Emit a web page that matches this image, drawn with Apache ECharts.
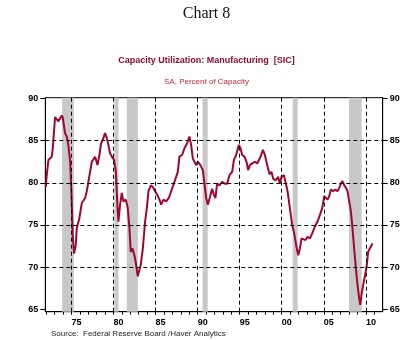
<!DOCTYPE html>
<html>
<head>
<meta charset="utf-8">
<script src="https://cdn.jsdelivr.net/npm/echarts@6/dist/echarts.min.js"></script>
<style>html,body{margin:0;padding:0;background:#fff;}#c{width:413px;height:340px;}</style>
</head>
<body>
<div id="c"></div>
<script>
// Decimal year of each reading
const dates = [
 1971.96,1972.07,1972.27,1972.67,1972.79,1973.06,1973.18,1973.45,1973.66,1973.86,1973.98,
 1974.25,1974.45,1974.64,1974.85,1975.00,1975.17,1975.32,1975.52,1975.64,1975.95,
 1976.24,1976.63,1976.83,1977.22,1977.43,1977.82,1978.10,1978.33,1978.53,1978.73,
 1979.00,1979.21,1979.40,1979.60,1979.80,1980.08,1980.28,1980.47,1980.59,1980.79,
 1980.99,1981.18,1981.47,1981.70,1981.90,1982.06,1982.26,1982.49,1982.69,1982.89,
 1983.09,1983.25,1983.49,1983.76,1983.97,1984.16,1984.44,1984.68,1984.95,1985.25,
 1985.47,1985.67,1985.94,1986.26,1986.58,1986.86,1987.25,1987.65,1987.84,1988.16,
 1988.44,1988.76,1989.03,1989.23,1989.43,1989.63,1989.83,1990.03,1990.34,1990.62,
 1990.82,1991.02,1991.22,1991.49,1991.73,1991.93,1992.12,1992.32,1992.60,1992.92,
 1993.24,1993.51,1993.79,1994.11,1994.31,1994.58,1994.90,1995.10,1995.30,1995.57,
 1995.81,1996.01,1996.21,1996.49,1996.81,1997.08,1997.29,1997.56,1997.76,1998.00,
 1998.27,1998.55,1998.78,1998.98,1999.26,1999.58,1999.78,1999.97,2000.26,2000.45,
 2000.69,2000.97,2001.24,2001.48,2001.75,2001.96,2002.16,2002.35,2002.55,2002.82,
 2003.06,2003.35,2003.62,2003.94,2004.25,2004.54,2004.81,2005.05,2005.25,2005.44,
 2005.64,2005.84,2006.12,2006.36,2006.63,2006.83,2007.03,2007.22,2007.43,2007.63,
 2007.82,2008.02,2008.22,2008.41,2008.61,2008.81,2009.00,2009.20,2009.33,2009.48,
 2009.68,2009.88,2010.12,2010.27,2010.47,2010.59,2010.79
];
// Capacity utilization, manufacturing (SIC), % of capacity
const capUtil = [
 79.5,80.9,82.7,83.1,84.1,87.8,88.0,87.3,87.1,88.0,87.7,
 85.9,85.5,84.5,82.5,79.0,73.5,71.6,72.6,74.6,75.8,
 77.6,78.2,79.0,81.3,82.5,83.1,82.1,83.3,84.7,85.1,
 85.9,85.3,84.5,83.5,83.1,82.7,81.3,77.4,75.4,77.4,
 78.8,77.8,78.0,77.0,74.6,71.8,72.2,71.4,70.3,68.9,
 68.9,70.3,72.2,75.4,77.0,79.0,79.7,79.5,79.0,78.5,
 78.0,77.4,78.0,77.8,78.2,79.0,80.1,81.3,83.1,83.3,
 84.1,84.7,85.5,84.5,82.9,82.5,82.1,82.5,82.1,81.5,
 79.9,78.2,77.4,78.4,79.3,78.6,78.2,79.9,79.7,80.1,
 79.9,79.9,80.9,81.3,82.7,83.3,84.5,84.1,83.3,83.1,
 82.5,81.5,82.1,82.3,82.5,82.3,82.7,83.3,83.9,83.3,
 82.1,81.0,81.3,80.5,80.3,80.7,79.9,80.7,80.9,80.1,
 79.0,77.0,75.0,74.0,72.4,71.4,72.2,73.4,73.6,73.2,
 73.6,73.4,74.0,74.8,75.4,76.2,77.0,78.4,78.6,78.0,
 78.4,79.2,79.0,79.2,79.0,79.4,79.9,80.2,79.7,79.4,
 79.0,77.8,76.6,74.6,72.2,69.9,67.9,66.3,65.5,66.7,
 67.9,68.9,70.3,71.8,72.2,72.2,72.8
];
// Recession shading (start, end) in decimal years
const recessions = [[1973.9,1975.3],[1980.1,1980.6],[1981.6,1982.9],[1990.6,1991.2],[2001.3,2001.9],[2008.0,2009.5]];
const gridYears = [1975,1980,1985,1990,1995,2000,2005,2010];
const yearLabels = ['75','80','85','90','95','00','05','10'];
const yTicks = [65,70,75,80,85,90];
const yGrid = [70,75,80,85];

const pts = dates.map((d,i)=>[d,capUtil[i]]);
const tickYears = [];
for (let y=1972; y<=2011; y++) tickYears.push(y);
const labelPos = gridYears.map(y=>y+0.6);

const chart = echarts.init(document.getElementById('c'), null, {renderer:'canvas'});
const lblFont = {fontFamily:'Liberation Sans', fontSize:9, fontWeight:'bold', color:'#000'};
const yAxisBase = {
  type:'value', min:64.7, max:90.1,
  axisLine:{show:true, lineStyle:{color:'#000', width:1}},
  axisTick:{show:true, customValues:yTicks, length:5, lineStyle:{color:'#000'}},
  axisLabel:Object.assign({customValues:yTicks, margin:7}, lblFont),
  splitLine:{show:false}
};
chart.setOption({
  animation:false,
  backgroundColor:'#fff',
  title:[
    {text:'Chart 8', left:'center', top:1, textStyle:{fontFamily:'Liberation Serif', fontSize:16, fontWeight:'normal', color:'#111'}},
    {text:'Capacity Utilization: Manufacturing  [SIC]', left:'center', top:51, textStyle:{fontFamily:'Liberation Sans', fontSize:9, fontWeight:'bold', color:'#8e0b2c'}},
    {text:'SA, Percent of Capacity', left:'center', top:73, textStyle:{fontFamily:'Liberation Sans', fontSize:8, fontWeight:'normal', color:'#c0283c'}},
    {text:'Source:  Federal Reserve Board /Haver Analytics', left:46, top:325, textStyle:{fontFamily:'Liberation Sans', fontSize:8, fontWeight:'normal', color:'#222'}}
  ],
  grid:{left:45.3, right:30.3, top:97.7, bottom:28.3, show:true, borderColor:'#000', borderWidth:1, backgroundColor:'transparent'},
  xAxis:{
    type:'value', min:1971.9, max:2012.0,
    axisLine:{show:true, onZero:false, lineStyle:{color:'#000'}},
    axisTick:{show:true, customValues:tickYears, length:3, lineStyle:{color:'#000'}},
    axisLabel:Object.assign({customValues:labelPos, margin:6, formatter:(v)=>{const i=labelPos.findIndex(p=>Math.abs(p-v)<0.01);return i>=0?yearLabels[i]:'';}}, lblFont),
    splitLine:{show:false}
  },
  yAxis:[
    Object.assign({position:'left'}, yAxisBase),
    Object.assign({position:'right'}, yAxisBase)
  ],
  series:[
    {
      type:'line', data:pts, z:1, silent:true, showSymbol:false,
      lineStyle:{opacity:0},
      markArea:{silent:true, itemStyle:{color:'#c8c8c8'}, data:recessions.map(r=>[{xAxis:r[0]},{xAxis:r[1]}])}
    },
    {
      type:'line', data:pts, z:2, silent:true, showSymbol:false,
      lineStyle:{opacity:0},
      markLine:{silent:true, symbol:'none', label:{show:false},
        lineStyle:{color:'#000', type:[4,3], width:1},
        data: gridYears.map(y=>({xAxis:y})).concat(yGrid.map(v=>({yAxis:v})))}
    },
    {
      type:'line', data:pts, z:3, showSymbol:false, smooth:false,
      lineStyle:{color:'#a0062e', width:2}
    }
  ]
});
</script>
</body>
</html>
